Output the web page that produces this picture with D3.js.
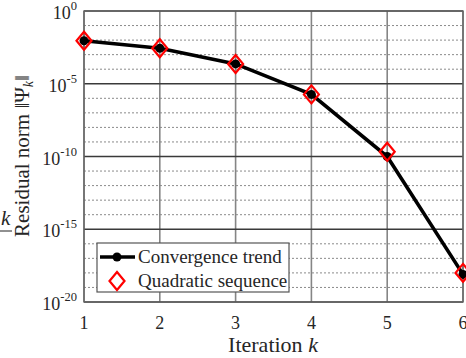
<!DOCTYPE html>
<html><head><meta charset="utf-8">
<script src="https://cdn.jsdelivr.net/npm/d3@7"></script>
<style>body{margin:0;background:#fff}svg{display:block}</style>
</head><body>
<script>
const iterations = [1, 2, 3, 4, 5, 6];
const convergenceTrend = [9.1e-3, 2.75e-3, 2.3e-4, 1.86e-6, 1.0e-10, 7.9e-19];
const quadraticSequence = [9.1e-3, 2.75e-3, 2.3e-4, 1.86e-6, 2.1e-10, 1.0e-18];
const yMajorTicks = [1e0, 1e-5, 1e-10, 1e-15, 1e-20];
const yTickExponents = ["0", "-5", "-10", "-15", "-20"];
const xTicks = [1, 2, 3, 4, 5, 6];
const legendLabels = ["Convergence trend", "Quadratic sequence"];

const FONT = "'Liberation Serif', 'Times New Roman', Times, serif";
const W = 466, H = 358;
const m = {l: 84, r: 3, t: 11, b: 56};
const svg = d3.select("body").append("svg").attr("width", W).attr("height", H)
  .attr("font-family", FONT).attr("fill", "#262626");
const x = d3.scaleLinear().domain([1, 6]).range([m.l, W - m.r]);
const y = d3.scaleLog().domain([1e-20, 1e0]).range([H - m.b, m.t]);

// minor grid
const minor = d3.range(-19, 0).filter(e => e % 5 !== 0).map(e => Math.pow(10, e));
svg.append("g").selectAll("line").data(minor).join("line")
  .attr("x1", m.l).attr("x2", W - m.r)
  .attr("y1", d => y(d)).attr("y2", d => y(d))
  .attr("stroke", "#8a8a8a").attr("stroke-width", 1).attr("stroke-dasharray", "2,2");
// vertical grid
svg.append("g").selectAll("line").data(xTicks).join("line")
  .attr("x1", d => x(d)).attr("x2", d => x(d))
  .attr("y1", m.t).attr("y2", H - m.b)
  .attr("stroke", "#858585").attr("stroke-width", 1.6);
// major horizontal grid
svg.append("g").selectAll("line").data(yMajorTicks).join("line")
  .attr("x1", m.l).attr("x2", W - m.r)
  .attr("y1", d => y(d)).attr("y2", d => y(d))
  .attr("stroke", "#3a3a3a").attr("stroke-width", 1.4);
// frame
svg.append("rect").attr("x", m.l).attr("y", m.t).attr("width", W - m.r - m.l).attr("height", H - m.b - m.t)
  .attr("fill", "none").attr("stroke", "#666").attr("stroke-width", 1.4);

// y tick labels
const yl = svg.append("g");
yMajorTicks.forEach((v, i) => {
  const t = yl.append("text").attr("x", 77).attr("y", y(v) + 8).attr("text-anchor", "end").attr("font-size", 18);
  t.append("tspan").text("10");
  t.append("tspan").attr("font-size", 12.5).attr("dy", -9).text(yTickExponents[i]);
});
// x tick labels
svg.append("g").selectAll("text").data(xTicks).join("text")
  .attr("x", d => x(d)).attr("y", 329).attr("text-anchor", "middle").attr("font-size", 18).text(d => d);

// axis labels
const xl = svg.append("text").attr("x", 273).attr("y", 352).attr("text-anchor", "middle").attr("font-size", 22);
xl.append("tspan").text("Iteration ");
xl.append("tspan").attr("font-style", "italic").text("k");

const ylab = svg.append("text").attr("transform", "translate(29,156) rotate(-90)").attr("text-anchor", "middle").attr("font-size", 21);
ylab.append("tspan").text("Residual norm \u2016\u03A8");
ylab.append("tspan").attr("font-style", "italic").attr("font-size", 14).attr("dy", 4).text("k");
ylab.append("tspan").attr("dy", -4).text("\u2016");

// stray fraction fragment at left edge
svg.append("text").attr("x", 1).attr("y", 225).attr("font-size", 21).attr("font-style", "italic").text("k");
svg.append("line").attr("x1", 0).attr("x2", 12).attr("y1", 231).attr("y2", 231).attr("stroke", "#222").attr("stroke-width", 1);

// data
const pts = iterations.map((k, i) => ({k, c: convergenceTrend[i], q: quadraticSequence[i]}));
svg.append("path").datum(pts)
  .attr("d", d3.line().x(d => x(d.k)).y(d => y(d.c)))
  .attr("fill", "none").attr("stroke", "#000").attr("stroke-width", 3.6);
svg.append("g").selectAll("circle").data(pts).join("circle")
  .attr("cx", d => x(d.k)).attr("cy", d => y(d.c)).attr("r", 4.5).attr("fill", "#000");
const diamond = (cx, cy) => `M${cx},${cy - 9}L${cx + 7.5},${cy}L${cx},${cy + 9}L${cx - 7.5},${cy}Z`;
svg.append("g").selectAll("path").data(pts).join("path")
  .attr("d", d => diamond(x(d.k), y(d.q)))
  .attr("fill", "none").attr("stroke", "#ff0000").attr("stroke-width", 2.2);

// legend
const lg = svg.append("g");
lg.append("rect").attr("x", 97).attr("y", 243).attr("width", 192).attr("height", 49)
  .attr("fill", "#fff").attr("stroke", "#555").attr("stroke-width", 1.2);
lg.append("line").attr("x1", 100).attr("x2", 135).attr("y1", 257).attr("y2", 257).attr("stroke", "#000").attr("stroke-width", 3.6);
lg.append("circle").attr("cx", 117).attr("cy", 257).attr("r", 4.5).attr("fill", "#000");
lg.append("path").attr("d", diamond(117, 281)).attr("fill", "none").attr("stroke", "#ff0000").attr("stroke-width", 2.2);
lg.append("text").attr("x", 138).attr("y", 263).attr("font-size", 19).text(legendLabels[0]);
lg.append("text").attr("x", 138).attr("y", 287).attr("font-size", 19).text(legendLabels[1]);
</script>
</body></html>
